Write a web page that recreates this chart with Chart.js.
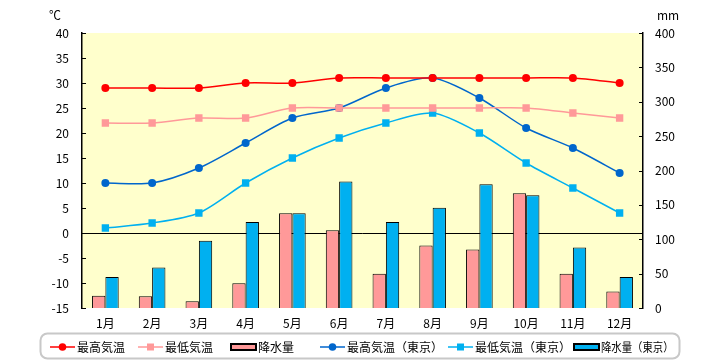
<!DOCTYPE html>
<html>
<head>
<meta charset="utf-8">
<script src="https://cdn.jsdelivr.net/npm/chart.js@4/dist/chart.umd.min.js"></script>
<style>
  html, body { margin: 0; padding: 0; background: #fff; }
  #wrap { width: 720px; height: 360px; }
</style>
</head>
<body>
<div id="wrap"><canvas id="chart" width="720" height="360"></canvas></div>
<script>
'use strict';

const months = ['1月', '2月', '3月', '4月', '5月', '6月', '7月', '8月', '9月', '10月', '11月', '12月'];
const highTemp = [29, 29, 29, 30, 30, 31, 31, 31, 31, 31, 31, 30];
const lowTemp = [22, 22, 23, 23, 25, 25, 25, 25, 25, 25, 24, 23];
const rain = [18, 17, 10, 36, 138, 113, 50, 91, 85, 167, 50, 24];
const tokyoHigh = [10, 10, 13, 18, 23, 25, 29, 31, 27, 21, 17, 12];
const tokyoLow = [1, 2, 4, 10, 15, 19, 22, 24, 20, 14, 9, 4];
const tokyoRain = [45, 59, 98, 125, 138, 184, 125, 146, 180, 164, 88, 45];

const tempTicks = { min: -15, max: 40, step: 5 };
const rainTicks = { min: 0, max: 400, step: 50 };

const FONT = '"Noto Sans CJK JP", "Noto Sans", sans-serif';

// where each legend entry starts (x) inside the legend box
const legendX = [50, 138, 231, 320, 448, 574];

const lineSet = (label, data, color, style, radius) => ({
  type: 'line',
  label: label,
  data: data,
  yAxisID: 'y',
  borderColor: color,
  backgroundColor: color,
  borderWidth: 1.5,
  pointStyle: style,
  pointRadius: radius,
  pointHoverRadius: radius,
  pointBorderWidth: 0,
  tension: 0.28,
  order: 0
});

const barSet = (label, data, color) => ({
  type: 'bar',
  label: label,
  data: data,
  yAxisID: 'y1',
  backgroundColor: color,
  borderColor: '#000',
  borderWidth: 1,
  categoryPercentage: 0.57,
  barPercentage: 1,
  order: 1
});

const plotBackground = {
  id: 'plotBackground',
  beforeDraw(chart) {
    const {ctx, chartArea: a} = chart;
    ctx.save();
    ctx.fillStyle = '#fff';
    ctx.fillRect(0, 0, chart.width, chart.height);
    ctx.fillStyle = '#FFFFCC';
    ctx.fillRect(a.left, a.top, a.right - a.left, a.bottom - a.top);
    ctx.restore();
  }
};

const axisDecor = {
  id: 'axisDecor',
  afterDraw(chart) {
    const ctx = chart.ctx;
    const y = chart.scales.y;
    const y1 = chart.scales.y1;
    ctx.save();
    ctx.strokeStyle = '#000';
    ctx.lineWidth = 1;
    // inward tick marks
    y.ticks.forEach(t => {
      const py = Math.round(y.getPixelForValue(t.value)) + 0.5;
      ctx.beginPath();
      ctx.moveTo(y.right, py);
      ctx.lineTo(y.right + 4, py);
      ctx.stroke();
    });
    y1.ticks.forEach(t => {
      const py = Math.round(y1.getPixelForValue(t.value)) + 0.5;
      ctx.beginPath();
      ctx.moveTo(y1.left, py);
      ctx.lineTo(y1.left - 4, py);
      ctx.stroke();
    });
    // unit labels
    ctx.fillStyle = '#000';
    ctx.font = '12px ' + FONT;
    ctx.textBaseline = 'middle';
    ctx.textAlign = 'left';
    ctx.fillText('℃', 49, 15);
    ctx.fillText('mm', 657, 15);

    // legend
    const top = 333.5, bottom = 358.5, left = 40.5, right = 679.5, r = 7;
    ctx.strokeStyle = '#C8C8C8';
    ctx.lineWidth = 2;
    ctx.fillStyle = '#fff';
    ctx.beginPath();
    ctx.roundRect(left, top, right - left, bottom - top, r);
    ctx.fill();
    ctx.stroke();

    const cy = 347;
    chart.data.datasets.forEach((ds, i) => {
      const x = legendX[i];
      if (ds.type === 'bar') {
        ctx.fillStyle = ds.backgroundColor;
        ctx.fillRect(x, cy - 3, 25, 6);
        ctx.strokeStyle = '#000';
        ctx.lineWidth = 2;
        ctx.strokeRect(x, cy - 3, 25, 6);
      } else {
        ctx.strokeStyle = ds.borderColor;
        ctx.lineWidth = 1.5;
        ctx.beginPath();
        ctx.moveTo(x, cy);
        ctx.lineTo(x + 25, cy);
        ctx.stroke();
        ctx.fillStyle = ds.backgroundColor;
        if (ds.pointStyle === 'circle') {
          ctx.beginPath();
          ctx.arc(x + 12.5, cy, 3.8, 0, Math.PI * 2);
          ctx.fill();
        } else {
          ctx.fillRect(x + 9, cy - 3.5, 7, 7);
        }
      }
      ctx.fillStyle = '#000';
      ctx.font = '12px ' + FONT;
      ctx.textAlign = 'left';
      ctx.textBaseline = 'middle';
      const next = i + 1 < legendX.length ? legendX[i + 1] : right - 4;
      ctx.fillText(ds.label, x + 27, cy, next - x - 29);
    });
    ctx.restore();
  }
};

new Chart(document.getElementById('chart'), {
  type: 'bar',
  data: {
    labels: months,
    datasets: [
      lineSet('最高気温', highTemp, '#FF0000', 'circle', 4),
      lineSet('最低気温', lowTemp, '#FF9999', 'rect', 5.2),
      barSet('降水量', rain, '#FF9999'),
      lineSet('最高気温（東京）', tokyoHigh, '#0066CC', 'circle', 4),
      lineSet('最低気温（東京）', tokyoLow, '#00B0F0', 'rect', 5.2),
      barSet('降水量（東京）', tokyoRain, '#00B0F0')
    ]
  },
  options: {
    responsive: false,
    animation: false,
    layout: { padding: { top: 33, left: 0, right: 0, bottom: 0 } },
    plugins: {
      legend: { display: false },
      tooltip: { enabled: false }
    },
    scales: {
      x: {
        offset: true,
        grid: { display: false },
        border: { display: false },
        ticks: {
          color: '#000',
          padding: 0,
          font: { family: FONT, size: 12 }
        },
        afterFit: scale => { scale.height = 52; }
      },
      y: {
        position: 'left',
        min: tempTicks.min,
        max: tempTicks.max,
        z: 1,
        grid: {
          drawTicks: false,
          color: c => (c.tick && c.tick.value === 0 ? '#000' : 'rgba(0,0,0,0)'),
          lineWidth: 1
        },
        border: { display: true, color: '#000', width: 1.5 },
        ticks: {
          stepSize: tempTicks.step,
          color: '#000',
          padding: 13,
          font: { family: FONT, size: 12 }
        },
        afterFit: scale => { scale.width = 82; }
      },
      y1: {
        position: 'right',
        min: rainTicks.min,
        max: rainTicks.max,
        grid: { display: false, drawTicks: false },
        border: { display: true, color: '#000', width: 1.5 },
        ticks: {
          stepSize: rainTicks.step,
          color: '#000',
          padding: 12,
          font: { family: FONT, size: 12 }
        },
        afterFit: scale => { scale.width = 77; }
      }
    }
  },
  plugins: [plotBackground, axisDecor]
});
</script>
</body>
</html>
